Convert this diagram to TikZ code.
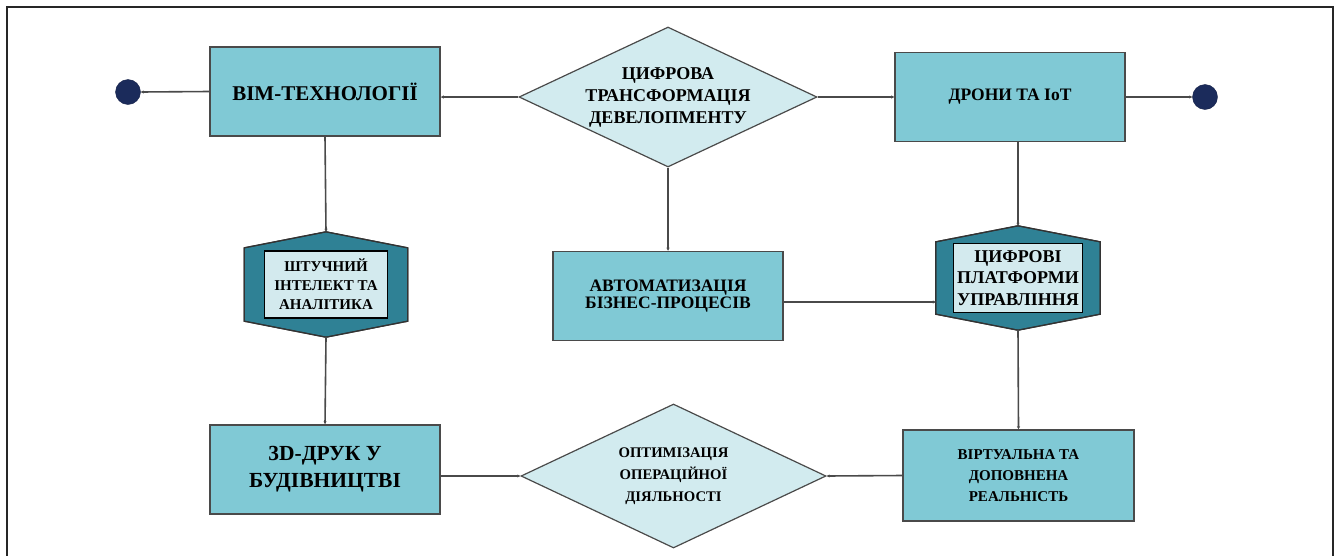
\documentclass[tikz,border=0pt]{standalone}
\usepackage{fontspec}
\setmainfont{Liberation Serif}
\usetikzlibrary{shapes.geometric,arrows.meta,calc}
\definecolor{boxfill}{HTML}{80C9D5}
\definecolor{diafill}{HTML}{D2EBEF}
\definecolor{hexfill}{HTML}{2F8195}
\definecolor{innerfill}{HTML}{D3EAEE}
\definecolor{dotfill}{HTML}{1B2B5B}
\definecolor{linec}{HTML}{4A4A4A}
\tikzset{
  box/.style={draw=linec, line width=1.5pt, fill=boxfill, rectangle, minimum width=230pt, minimum height=89pt, align=center, font=\bfseries, inner sep=0pt},
  dia/.style={draw=linec, line width=1.2pt, fill=diafill, diamond, aspect=2.13, inner sep=0pt, align=center, font=\bfseries},
  hexbase/.style={rectangle, minimum width=163pt, minimum height=105pt, inner sep=0pt},
  hexshape/.style={draw=black!80, line width=1.2pt, fill=hexfill},
  inner/.style={draw=black, line width=1.3pt, fill=innerfill, rectangle, align=center, font=\bfseries, inner sep=0pt},
  dot/.style={circle, fill=dotfill, draw=dotfill!80!black, minimum size=25pt, inner sep=0pt},
  conn/.style={draw=linec, line width=1.6pt, -{Stealth[length=3pt,width=3pt]}},
}
\begin{document}
\begin{tikzpicture}[x=1pt,y=-1pt]
\useasboundingbox (0,0) rectangle (1336,555);
% frame
\draw[line width=2pt, black!85] (7,560) -- (7,7) -- (1333,7) -- (1333,560);

% nodes
\node[box, font=\bfseries\fontsize{21}{24}\selectfont] (bim) at (325,91.5) {ВІМ-ТЕХНОЛОГІЇ};
\node[dot] (dot1) at (128,92) {};
\node[dia, minimum width=298pt, minimum height=140pt, font=\bfseries\fontsize{18}{22}\selectfont] (d1) at (668,97) {ЦИФРОВА\\ТРАНСФОРМАЦІЯ\\ДЕВЕЛОПМЕНТУ};
\node[box, font=\bfseries\fontsize{17.5}{20}\selectfont] (drones) at (1010,97) {ДРОНИ ТА IoT};
\node[dot] (dot2) at (1205,97) {};

\node[hexbase] (hex1) at (326,284.5) {};
\fill[hexshape] (hex1.north) -- ([yshift=-16pt]hex1.north east) -- ([yshift=16pt]hex1.south east) -- (hex1.south) -- ([yshift=16pt]hex1.south west) -- ([yshift=-16pt]hex1.north west) -- cycle;
\draw[hexshape, fill=none] (hex1.north) -- ([yshift=-16pt]hex1.north east) -- ([yshift=16pt]hex1.south east) -- (hex1.south) -- ([yshift=16pt]hex1.south west) -- ([yshift=-16pt]hex1.north west) -- cycle;
\node[inner, minimum width=123pt, minimum height=67pt, font=\bfseries\fontsize{15}{19}\selectfont] (in1) at (hex1.center) {ШТУЧНИЙ\\ІНТЕЛЕКТ ТА\\АНАЛІТИКА};

\node[box, font=\bfseries\fontsize{17.5}{16.5}\selectfont] (auto) at (668,296) {АВТОМАТИЗАЦІЯ\\БІЗНЕС-ПРОЦЕСІВ};

\node[hexbase, minimum width=164pt, minimum height=104pt] (hex2) at (1018,278) {};
\fill[hexshape] (hex2.north) -- ([yshift=-16pt]hex2.north east) -- ([yshift=16pt]hex2.south east) -- (hex2.south) -- ([yshift=16pt]hex2.south west) -- ([yshift=-16pt]hex2.north west) -- cycle;
\draw[hexshape, fill=none] (hex2.north) -- ([yshift=-16pt]hex2.north east) -- ([yshift=16pt]hex2.south east) -- (hex2.south) -- ([yshift=16pt]hex2.south west) -- ([yshift=-16pt]hex2.north west) -- cycle;
\node[inner, minimum width=129pt, minimum height=69pt, font=\bfseries\fontsize{18}{21.5}\selectfont] (in2) at (hex2.center) {ЦИФРОВІ\\ПЛАТФОРМИ\\УПРАВЛІННЯ};

\node[box, font=\bfseries\fontsize{21.5}{27}\selectfont] (print) at (325,469.5) {3D-ДРУК У\\БУДІВНИЦТВІ};
\node[dia, minimum width=305pt, minimum height=144pt, font=\bfseries\fontsize{14.7}{22}\selectfont] (d2) at (673.5,476) {ОПТИМІЗАЦІЯ\\ОПЕРАЦІЙНОЇ\\ДІЯЛЬНОСТІ};
\node[box, minimum width=231pt, minimum height=91pt, font=\bfseries\fontsize{15}{21}\selectfont] (vr) at (1018.5,475.5) {ВІРТУАЛЬНА ТА\\ДОПОВНЕНА\\РЕАЛЬНІСТЬ};

% connectors
\draw[conn] (d1.west) -- (d1.west -| bim.east);
\draw[conn] (bim.west) -- (dot1.east);
\draw[conn] (d1.east) -- (drones.west);
\draw[conn] (drones.east) -- (dot2.west);
\draw[conn] (bim.south) -- (hex1.north);
\draw[conn] (hex1.south) -- (print.north);
\draw[conn] (d1.south) -- (auto.north);
\draw[conn] ([yshift=-6pt]auto.east) -- ([yshift=-6pt]auto.east -| hex2.west);
\draw[conn] (hex2.north |- drones.south) -- (hex2.north);
\draw[conn] (hex2.south) -- (vr.north);
\draw[conn] (vr.west) -- (d2.east);
\draw[conn] (d2.west -| print.east) -- (d2.west);
\end{tikzpicture}
\end{document}
